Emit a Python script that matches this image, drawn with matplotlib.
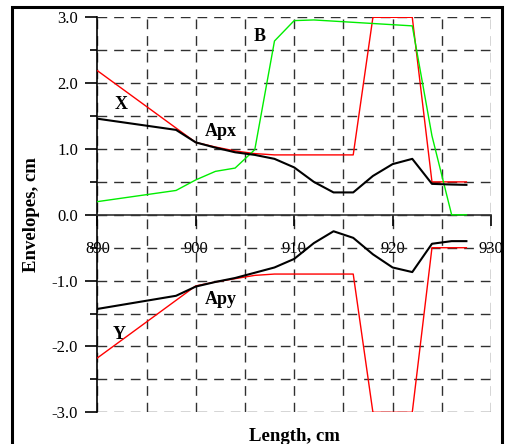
import matplotlib
matplotlib.use('Agg')
import matplotlib.pyplot as plt
from matplotlib.patches import Rectangle
from matplotlib.ticker import MultipleLocator

plt.rcParams['font.family'] = ['Liberation Serif', 'DejaVu Serif']
plt.rcParams['lines.scale_dashes'] = False
plt.rcParams['axes.unicode_minus'] = False

# envelope data
z_env = [890, 898, 900, 902, 904, 906, 908, 910, 912, 914, 916, 918, 920, 922, 924, 926, 927.5]
x_env = [1.46, 1.29, 1.10, 1.02, 0.95, 0.91, 0.85, 0.72, 0.50, 0.34, 0.34, 0.59, 0.77, 0.85, 0.47, 0.46, 0.455]
y_env = [-1.43, -1.23, -1.09, -1.02, -0.96, -0.88, -0.80, -0.67, -0.43, -0.25, -0.35, -0.60, -0.80, -0.87, -0.44, -0.40, -0.40]

# apertures
z_ap = [890, 900, 902, 904, 906, 908, 916, 918, 922, 924, 927.5]
apx = [2.19, 1.10, 1.03, 0.97, 0.93, 0.91, 0.91, 3.0, 3.0, 0.5, 0.5]
apy = [-2.175, -1.08, -1.02, -0.97, -0.92, -0.90, -0.90, -3.0, -3.0, -0.5, -0.5]

# magnetic field B
z_b = [890, 898, 900, 902, 904, 906, 908, 910, 912, 922, 924, 926, 927.5]
b = [0.20, 0.37, 0.53, 0.66, 0.71, 0.99, 2.64, 2.95, 2.96, 2.87, 1.2, 0.0, 0.0]

labels = [('X', 892.4, 1.68), ('Apx', 902.5, 1.27), ('B', 906.5, 2.71),
          ('Apy', 902.5, -1.29), ('Y', 892.2, -1.82)]

fig = plt.figure(figsize=(5.05, 4.44), dpi=100)
ax = fig.add_axes([0.1927, 0.0714, 0.7796, 0.8896])

ax.plot(z_ap, apx, color='#ff0000', lw=1.0, zorder=3)
ax.plot(z_ap, apy, color='#ff0000', lw=1.0, zorder=3)
ax.plot(z_b, b, color='#00ee00', lw=1.0, zorder=3)
ax.plot(z_env, x_env, color='black', lw=1.5, zorder=4)
ax.plot(z_env, y_env, color='black', lw=1.5, zorder=4)

for txt, xx, yy in labels:
    ax.text(xx, yy, txt, fontsize=13, fontweight='bold', ha='center', va='center')

ax.set_xlim(890, 930)
ax.set_ylim(-3, 3)
ax.xaxis.set_major_locator(MultipleLocator(10))
ax.xaxis.set_minor_locator(MultipleLocator(5))
ax.yaxis.set_major_locator(MultipleLocator(1))
ax.yaxis.set_minor_locator(MultipleLocator(0.5))
ax.yaxis.set_major_formatter('{x:.1f}')

ax.grid(True, which='both', color='#303030', linestyle=(0, (7, 5)), linewidth=1.0)
ax.set_axisbelow(True)

ax.spines['top'].set_visible(False)
ax.spines['right'].set_visible(False)
ax.spines['bottom'].set_position(('data', 0))
ax.spines['bottom'].set_color('#303030')
ax.spines['left'].set_linewidth(1.2)
ax.spines['bottom'].set_linewidth(1.2)

ax.tick_params(axis='y', which='major', direction='out', length=9, width=1.2, pad=5, labelsize=12)
ax.tick_params(axis='y', which='minor', direction='out', length=5, width=1.2)
ax.tick_params(axis='x', which='major', direction='out', length=8, width=1.2, pad=11, labelsize=12)
ax.tick_params(axis='x', which='minor', length=0)

ax.set_xlabel('Length, cm', fontsize=13.5, fontweight='bold')
ax.xaxis.set_label_coords(0.5, -0.04)
ax.set_ylabel('Envelopes, cm', fontsize=13.5, fontweight='bold')
ax.yaxis.set_label_coords(-0.146, 0.5)

# frame around the whole picture
fig.patches.append(Rectangle((12 / 505, -0.02), 490 / 505, 0.02 + 436.5 / 444,
                             transform=fig.transFigure, fill=False,
                             edgecolor='black', linewidth=2.2))

plt.savefig('out.png', dpi=100)
